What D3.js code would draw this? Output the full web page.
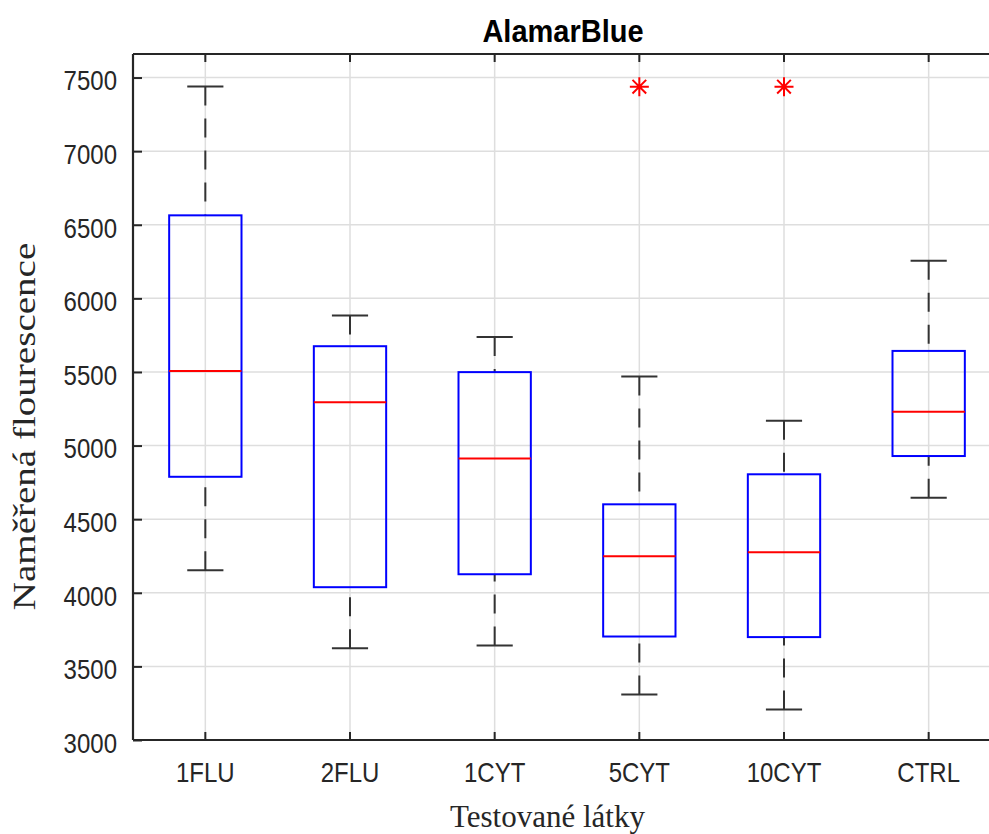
<!DOCTYPE html>
<html>
<head>
<meta charset="utf-8">
<script src="https://d3js.org/d3.v7.min.js"></script>
<style>
  body { margin: 0; background: #fff; }
  svg { display: block; }
</style>
</head>
<body>
<script>
// Data
var categories = ["1FLU", "2FLU", "1CYT", "5CYT", "10CYT", "CTRL"];
var whiskerHigh = [7439, 5883, 5738, 5469, 5168, 6256];
var q3 = [6564, 5675, 5499, 4601, 4805, 5643];
var medians = [5507, 5295, 4913, 4248, 4275, 5229];
var q1 = [4788, 4038, 4126, 3703, 3699, 4929];
var whiskerLow = [4153, 3624, 3642, 3309, 3208, 4646];
var outlierCats = ["5CYT", "10CYT"];
var outlierValues = [7438, 7438];
var yTicks = [3000, 3500, 4000, 4500, 5000, 5500, 6000, 6500, 7000, 7500];

function drawBoxplot()
{
    var width = 989, height = 834;
    var left = 133, top = 54, bottom = 740, right = 1001;
    var sans = "'Liberation Sans', Arial, sans-serif";
    var serif = "'Liberation Serif', 'Times New Roman', serif";
    var axisColor = "#262626";

    var xScale = d3.scaleBand().domain(categories).range([left, right]).padding(0);
    var yScale = d3.scaleLinear().domain([3000, 7660]).range([bottom, top]);
    var bw = xScale.bandwidth();
    function cx(c) { return xScale(c) + bw / 2; }

    var svg = d3.select("body").append("svg")
        .attr("width", width).attr("height", height);

    // Rutnät
    svg.append("g").selectAll("line").data(yTicks).enter().append("line")
        .attr("x1", left).attr("x2", right)
        .attr("y1", function(d) { return yScale(d); })
        .attr("y2", function(d) { return yScale(d); })
        .attr("stroke", "#dedede").attr("stroke-width", 1.5);
    svg.append("g").selectAll("line").data(categories).enter().append("line")
        .attr("x1", cx).attr("x2", cx)
        .attr("y1", top).attr("y2", bottom)
        .attr("stroke", "#dedede").attr("stroke-width", 1.5);

    // Axlar
    var yAxis = d3.axisLeft(yScale).tickValues(yTicks).tickFormat(d3.format("d"))
        .tickSize(-9).tickSizeOuter(0);
    var xAxis = d3.axisBottom(xScale).tickSize(-8).tickSizeOuter(0);
    var xTop = d3.axisTop(xScale).tickSize(-8).tickSizeOuter(0).tickFormat("");

    var gy = svg.append("g").attr("transform", "translate(" + left + ",0)").call(yAxis);
    var gx = svg.append("g").attr("transform", "translate(0," + bottom + ")").call(xAxis);
    var gt = svg.append("g").attr("transform", "translate(0," + top + ")").call(xTop);

    [gy, gx, gt].forEach(function(g) {
        g.select(".domain").attr("stroke", axisColor).attr("stroke-width", 2.2);
        g.selectAll(".tick line").attr("stroke", axisColor).attr("stroke-width", 2);
    });
    gy.select(".domain").attr("d", "M0," + bottom + "V" + top);
    gx.select(".domain").attr("d", "M" + left + ",0H" + right);
    gt.select(".domain").attr("d", "M" + left + ",0H" + right);

    gy.selectAll(".tick text")
        .attr("x", 0).attr("y", 0).attr("dy", 0)
        .attr("transform", "translate(-16,12.3) scale(1,1.17)")
        .attr("fill", axisColor)
        .style("font-family", sans).style("font-size", "24px");
    gx.selectAll(".tick text")
        .attr("x", 0).attr("y", 0).attr("dy", 0)
        .attr("transform", "translate(0,41.7) scale(1,1.17)")
        .attr("fill", axisColor)
        .style("font-family", sans).style("font-size", "24px");

    // Morrhår, streckade från ändstreck till låda
    var idx = d3.range(categories.length);
    var plot = svg.append("g");
    plot.selectAll(".wh").data(idx).enter().append("line")
        .attr("x1", function(i) { return cx(categories[i]); })
        .attr("x2", function(i) { return cx(categories[i]); })
        .attr("y1", function(i) { return yScale(whiskerHigh[i]); })
        .attr("y2", function(i) { return yScale(q3[i]); })
        .attr("stroke", "#333").attr("stroke-width", 2).attr("stroke-dasharray", "19,13");
    plot.selectAll(".wl").data(idx).enter().append("line")
        .attr("x1", function(i) { return cx(categories[i]); })
        .attr("x2", function(i) { return cx(categories[i]); })
        .attr("y1", function(i) { return yScale(whiskerLow[i]); })
        .attr("y2", function(i) { return yScale(q1[i]); })
        .attr("stroke", "#333").attr("stroke-width", 2).attr("stroke-dasharray", "19,13");

    // Ändstreck
    [whiskerHigh, whiskerLow].forEach(function(arr) {
        plot.append("g").selectAll("line").data(idx).enter().append("line")
            .attr("x1", function(i) { return cx(categories[i]) - bw * 0.125; })
            .attr("x2", function(i) { return cx(categories[i]) + bw * 0.125; })
            .attr("y1", function(i) { return yScale(arr[i]); })
            .attr("y2", function(i) { return yScale(arr[i]); })
            .attr("stroke", "#333").attr("stroke-width", 2);
    });

    // Lådor
    plot.append("g").selectAll("rect").data(idx).enter().append("rect")
        .attr("x", function(i) { return cx(categories[i]) - bw * 0.25; })
        .attr("width", bw * 0.5)
        .attr("y", function(i) { return yScale(q3[i]); })
        .attr("height", function(i) { return yScale(q1[i]) - yScale(q3[i]); })
        .attr("fill", "none").attr("stroke", "#0000ff").attr("stroke-width", 2);

    // Medianer
    plot.append("g").selectAll("line").data(idx).enter().append("line")
        .attr("x1", function(i) { return cx(categories[i]) - bw * 0.25; })
        .attr("x2", function(i) { return cx(categories[i]) + bw * 0.25; })
        .attr("y1", function(i) { return yScale(medians[i]); })
        .attr("y2", function(i) { return yScale(medians[i]); })
        .attr("stroke", "#ff0000").attr("stroke-width", 2);

    // Avvikare som asterisker
    var r = 9.5, rd = r * 0.72;
    var star = "M0," + (-r) + "V" + r + "M" + (-r) + ",0H" + r +
        "M" + (-rd) + "," + (-rd) + "L" + rd + "," + rd +
        "M" + (-rd) + "," + rd + "L" + rd + "," + (-rd);
    plot.append("g").selectAll("path").data(outlierValues).enter().append("path")
        .attr("transform", function(d, i) {
            return "translate(" + cx(outlierCats[i]) + "," + yScale(d) + ")";
        })
        .attr("d", star)
        .attr("stroke", "#ff0000").attr("stroke-width", 2).attr("fill", "none");

    // Texter
    svg.append("text")
        .attr("transform", "translate(563,41.7) scale(1,1.06)")
        .attr("text-anchor", "middle")
        .style("font-family", sans).style("font-size", "29px").style("font-weight", "bold")
        .text("AlamarBlue");
    svg.append("text")
        .attr("transform", "translate(547.5,826.5)")
        .attr("text-anchor", "middle").attr("fill", "#262626")
        .style("font-family", serif).style("font-size", "31px")
        .text("Testované látky");
    svg.append("text")
        .attr("transform", "translate(35,426.5) rotate(-90) scale(1.26,1)")
        .attr("text-anchor", "middle").attr("fill", "#262626")
        .style("font-family", serif).style("font-size", "31px")
        .text("Naměřená flourescence");
}

drawBoxplot();
</script>
</body>
</html>
